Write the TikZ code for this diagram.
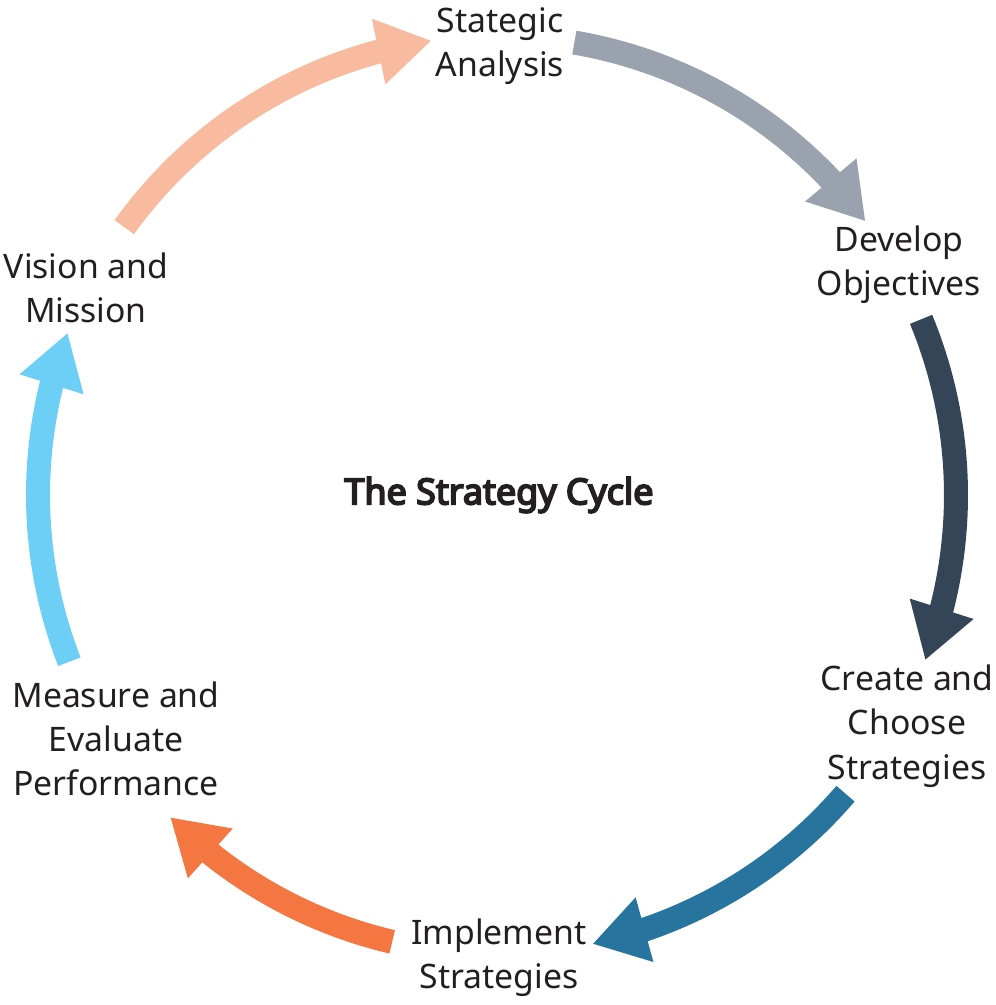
\documentclass[tikz,border=0pt]{standalone}
\usepackage{fontspec}
\setmainfont{Noto Sans}
\newfontfamily\titlefont{Noto Sans}[FakeBold=5]
\usetikzlibrary{arrows.meta,bending}
\definecolor{ink}{RGB}{35,31,32}
\definecolor{peach}{RGB}{249,187,160}
\definecolor{slate}{RGB}{154,163,173}
\definecolor{navy}{RGB}{52,69,88}
\definecolor{steel}{RGB}{39,116,159}
\definecolor{coral}{RGB}{244,118,65}
\definecolor{sky}{RGB}{109,207,246}
\begin{document}
\begin{tikzpicture}[x=0.025cm,y=0.025cm,font=\fontsize{24}{31.5}\selectfont,
  lbl/.style={align=center,text=ink,inner sep=0pt},
  cyc/.style={line width=0.6cm,-{Triangle[length=1.35cm,width=1.575cm]}}]
\useasboundingbox (0,0) rectangle (995,1005);
\coordinate (hub) at (497,510);
\node[lbl] (sa) at (500,959) {Stategic\\Analysis};
\node[lbl] (do) at (899,740) {Develop\\Objectives};
\node[lbl] (cc) at (907,279) {Create and\\Choose\\Strategies};
\node[lbl] (is) at (499,47) {Implement\\Strategies};
\node[lbl] (me) at (116,266) {Measure and\\Evaluate\\Performance};
\node[lbl] (vm) at (86,717) {Vision and\\Mission};
\node[lbl,font=\titlefont\fontsize{25.5}{31.5}\selectfont] (title) at (499,510) {The Strategy Cycle};
% arcs round the hub, tail angle / tip angle / colour
\foreach \from/\to/\col in {144.3/98.2/peach,80.3/36.6/slate,22.5/-21.1/navy,-40.6/-78/steel,-103.2/-135.4/coral,201.3/159.3/sky}
  \draw[cyc,\col] (hub) ++(\from:459) arc[start angle=\from,end angle=\to,radius=459];
\end{tikzpicture}
\end{document}
